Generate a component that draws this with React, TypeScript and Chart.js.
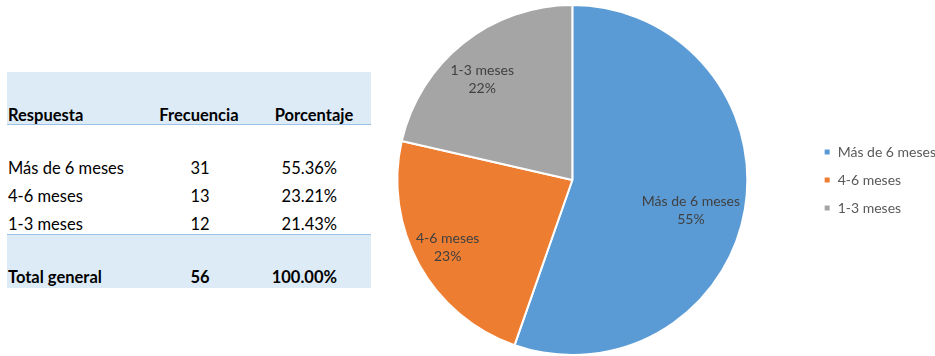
import React, { useEffect, useRef } from "react";
import { Chart, registerables } from "chart.js";

Chart.register(...registerables);

// ---- data ----
const headers = ["Respuesta", "Frecuencia", "Porcentaje"];
const categories = ["Más de 6 meses", "4-6 meses", "1-3 meses"];
const frecuencias = [31, 13, 12];
const porcentajes = ["55.36%", "23.21%", "21.43%"];
const totalLabel = "Total general";
const totalFrecuencia = 56;
const totalPorcentaje = "100.00%";
const pieLabels = ["55%", "23%", "22%"];
const colors = ["#5B9BD5", "#ED7D31", "#A5A5A5"];

// ---- styles / placement ----
const FONT = "Lato, 'Open Sans', sans-serif";
const TABLE_FONT_SIZE = 16.5;
const CHART_FONT_SIZE = 14;
const labelPlacement = [
  { r: 0.7, da: 4.9 },
  { r: 0.81, da: 0.5 },
  { r: 0.77, da: -3.4 },
];

const sliceLabelPlugin = {
  id: "sliceLabels",
  afterDatasetsDraw(chart: any) {
    const meta = chart.getDatasetMeta(0);
    const ctx = chart.ctx;
    ctx.save();
    ctx.font = `${CHART_FONT_SIZE}px ${FONT}`;
    ctx.fillStyle = "#404040";
    ctx.textAlign = "center";
    ctx.textBaseline = "middle";
    meta.data.forEach((arc: any, i: number) => {
      const p = arc.getProps(["x", "y", "startAngle", "endAngle", "outerRadius"], true);
      const mid = (p.startAngle + p.endAngle) / 2 + (labelPlacement[i].da * Math.PI) / 180;
      const r = p.outerRadius * labelPlacement[i].r;
      const cx = p.x + Math.cos(mid) * r;
      const cy = p.y + Math.sin(mid) * r;
      ctx.fillText(String(chart.data.labels[i]), cx, cy - 9);
      ctx.fillText(pieLabels[i], cx, cy + 9);
    });
    ctx.restore();
  },
};

function Cell(props: { x: number; cy: number; align: "left" | "center" | "right"; bold?: boolean; text: string }) {
  const w = 160;
  const lh = 22;
  let left = props.x;
  if (props.align === "center") left = props.x - w / 2;
  if (props.align === "right") left = props.x - w;
  return (
    <div
      style={{
        position: "absolute",
        left,
        top: props.cy - lh / 2,
        width: w,
        height: lh,
        lineHeight: `${lh}px`,
        textAlign: props.align,
        fontWeight: props.bold ? 700 : 400,
        fontSize: TABLE_FONT_SIZE,
        fontFamily: FONT,
        color: "#000",
        whiteSpace: "nowrap",
      }}
    >
      {props.text}
    </div>
  );
}

export default function App() {
  const canvasRef = useRef<HTMLCanvasElement | null>(null);

  useEffect(() => {
    if (!canvasRef.current) return;
    const chart = new Chart(canvasRef.current, {
      type: "pie",
      data: {
        labels: categories,
        datasets: [
          {
            data: frecuencias,
            backgroundColor: colors,
            borderColor: "#ffffff",
            borderWidth: 2,
          },
        ],
      },
      options: {
        animation: false,
        responsive: true,
        maintainAspectRatio: false,
        layout: { padding: { left: 35, top: 4, bottom: 0, right: -11 } },
        plugins: {
          tooltip: { enabled: false },
          legend: {
            position: "right",
            labels: {
              boxWidth: 7,
              boxHeight: 7,
              padding: 14,
              color: "#595959",
              font: { family: FONT, size: CHART_FONT_SIZE },
            },
          },
        },
      },
      plugins: [sliceLabelPlugin],
    });
    return () => chart.destroy();
  }, []);

  const rowCenters = [168, 196, 224];

  return (
    <div style={{ position: "absolute", left: 0, top: 0, width: 935, height: 356, overflow: "hidden", background: "#fff" }}>
      <div style={{ position: "absolute", left: 7, top: 72, width: 364, height: 52, background: "#DDEBF7", borderBottom: "1px solid #9BC2E6" }} />
      <div style={{ position: "absolute", left: 7, top: 234, width: 364, height: 53, background: "#DDEBF7", borderTop: "1px solid #9BC2E6" }} />
      <Cell x={8} cy={115} align="left" bold text={headers[0]} />
      <Cell x={199} cy={115} align="center" bold text={headers[1]} />
      <Cell x={314} cy={115} align="center" bold text={headers[2]} />
      {categories.map((c, i) => (
        <React.Fragment key={c}>
          <Cell x={8} cy={rowCenters[i]} align="left" text={c} />
          <Cell x={200} cy={rowCenters[i]} align="center" text={String(frecuencias[i])} />
          <Cell x={337} cy={rowCenters[i]} align="right" text={porcentajes[i]} />
        </React.Fragment>
      ))}
      <Cell x={8} cy={277} align="left" bold text={totalLabel} />
      <Cell x={200} cy={277} align="center" bold text={String(totalFrecuencia)} />
      <Cell x={337} cy={277} align="right" bold text={totalPorcentaje} />
      <div style={{ position: "absolute", left: 300, top: 0, width: 635, height: 356 }}>
        <canvas ref={canvasRef} />
      </div>
    </div>
  );
}
